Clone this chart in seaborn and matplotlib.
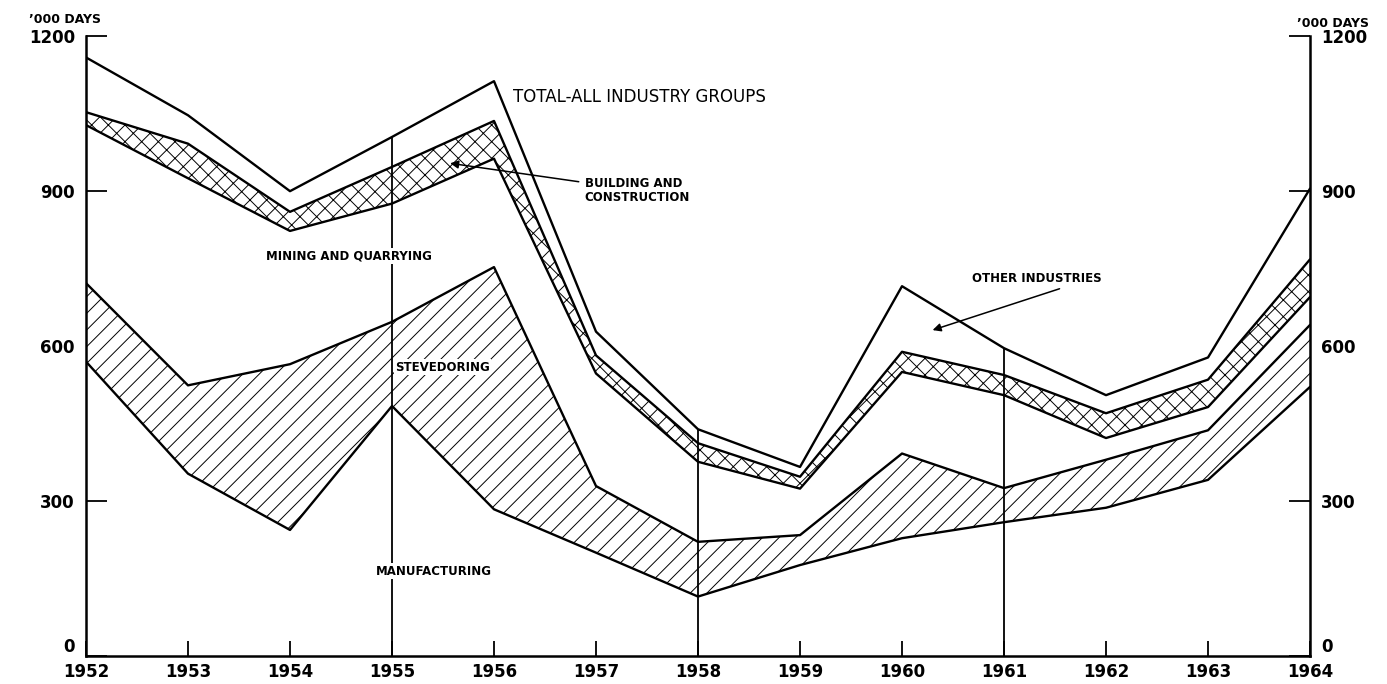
import numpy as np
import pandas as pd
import matplotlib
matplotlib.use("Agg")
import matplotlib.pyplot as plt
import seaborn as sns

# working days lost ('000) by industry group
years = [1952, 1953, 1954, 1955, 1956, 1957, 1958, 1959, 1960, 1961, 1962, 1963, 1964]
manufacturing = [570, 353, 244, 484, 284, 200, 115, 176, 228, 259, 287, 341, 521]
stevedoring = [152, 171, 321, 163, 469, 129, 106, 58, 164, 66, 93, 96, 120]
mining = [306, 401, 258, 229, 210, 218, 155, 90, 158, 180, 42, 45, 54]
building = [25, 67, 37, 71, 73, 35, 36, 23, 39, 39, 48, 53, 73]
other = [106, 55, 40, 58, 77, 46, 27, 19, 127, 52, 35, 43, 137]

y_ticks = [0, 300, 600, 900, 1200]

sns.set_style("ticks")
plt.rcParams['font.family'] = ['DejaVu Sans']
plt.rcParams['text.color'] = 'black'
plt.rcParams['hatch.linewidth'] = 0.7

# cumulative boundaries of the stacked bands
top1 = np.array(manufacturing)
top2 = top1 + np.array(stevedoring)
top3 = top2 + np.array(mining)
top4 = top3 + np.array(building)
total = top4 + np.array(other)

df = pd.DataFrame({
    'year': years * 5,
    'value': np.concatenate([top1, top2, top3, top4, total]),
    'series': ['manufacturing'] * 13 + ['stevedoring'] * 13 + ['mining'] * 13
              + ['building'] * 13 + ['total'] * 13,
})

fig = plt.figure(figsize=(13.87, 6.84), dpi=100)
ax = fig.add_axes([0.062, 0.041, 0.8825, 0.906])

# hatched bands
ax.fill_between(years, top1, top2, facecolor='white', edgecolor='black',
                hatch='//', linewidth=0, zorder=1)
ax.fill_between(years, top3, top4, facecolor='white', edgecolor='black',
                hatch='xx', linewidth=0, zorder=1)

# vertical reference lines up to the total
ax.vlines([1955, 1958, 1961], 0, [total[3], total[6], total[9]],
          color='black', linewidth=1.3, zorder=2)

sns.lineplot(data=df, x='year', y='value', hue='series', estimator=None,
             palette=['black'] * 5, legend=False, linewidth=1.7, ax=ax, zorder=3)

ax.set_xlim(1952, 1964)
ax.set_ylim(0, 1200)
ax.set_xticks(years)
ax.set_xticklabels([str(y) for y in years])
ax.set_yticks(y_ticks)
ax.set_yticklabels([str(v) for v in y_ticks])
ax.set_xlabel('')
ax.set_ylabel('')

ax.spines['top'].set_visible(False)
for s in ['left', 'right', 'bottom']:
    ax.spines[s].set_linewidth(1.8)
    ax.spines[s].set_color('black')

ax.tick_params(axis='x', direction='in', length=11, width=1.3, pad=5,
               labelsize=12, colors='black')
ax.tick_params(axis='y', direction='in', length=15, width=1.3, pad=8,
               labelsize=12, left=True, right=True, labelleft=True, labelright=True,
               colors='black')
ax.tick_params(axis='y', which='major', labelright=True)
fig.canvas.draw()
for lab in ax.get_xticklabels() + ax.get_yticklabels():
    lab.set_fontweight('bold')
# lift the zero labels clear of the year labels
for tick in ax.yaxis.get_major_ticks()[:1]:
    tick.label1.set_va('bottom')
    tick.label2.set_va('bottom')
    tick.label2.set_fontweight('bold')
for tick in ax.yaxis.get_major_ticks():
    tick.label2.set_fontweight('bold')

fig.text(0.021, 0.972, '\u2019000 DAYS', fontsize=9, fontweight='bold', ha='left', va='center')
fig.text(0.935, 0.966, '\u2019000 DAYS', fontsize=9, fontweight='bold', ha='left', va='center')

# band labels
ax.text(1956.19, 1082, 'TOTAL-ALL INDUSTRY GROUPS', fontsize=12, ha='left', va='center')
ax.text(1953.76, 774, 'MINING AND QUARRYING', fontsize=8.5, fontweight='bold',
        ha='left', va='center', bbox=dict(facecolor='white', edgecolor='none', pad=1), zorder=4)
ax.text(1955.03, 559, 'STEVEDORING', fontsize=8.5, fontweight='bold',
        ha='left', va='center', bbox=dict(facecolor='white', edgecolor='none', pad=1), zorder=4)
ax.text(1954.84, 164, 'MANUFACTURING', fontsize=8.5, fontweight='bold',
        ha='left', va='center', bbox=dict(facecolor='white', edgecolor='none', pad=1), zorder=4)

ax.annotate('BUILDING AND\nCONSTRUCTION', xy=(1955.57, 954), xytext=(1956.89, 902),
            fontsize=8.5, fontweight='bold', ha='left', va='center', linespacing=1.1,
            arrowprops=dict(arrowstyle='-|>', color='black', lw=1.1,
                            shrinkA=2, shrinkB=0, mutation_scale=12), zorder=5)
ax.annotate('OTHER INDUSTRIES', xy=(1960.30, 631), xytext=(1960.69, 730),
            fontsize=8.5, fontweight='bold', ha='left', va='center',
            arrowprops=dict(arrowstyle='-|>', color='black', lw=1.1,
                            shrinkA=0, shrinkB=0, mutation_scale=12,
                            relpos=(0.75, 0)), zorder=5)

plt.savefig('out.png', dpi=100)
